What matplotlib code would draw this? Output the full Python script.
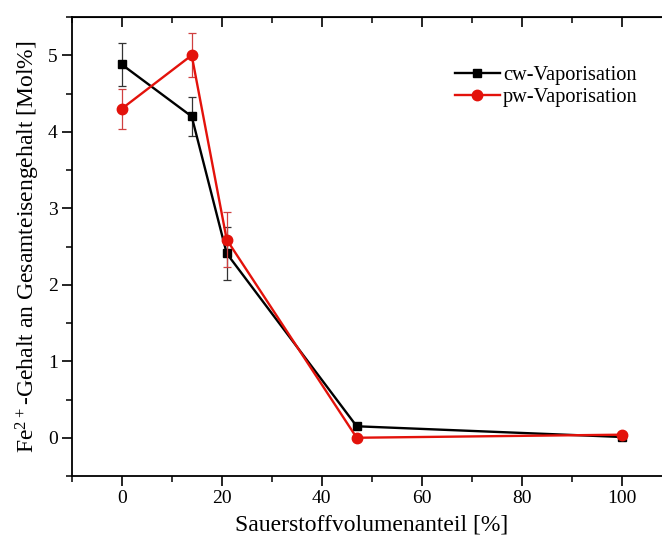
import matplotlib
matplotlib.use("Agg")
import matplotlib.pyplot as plt
from matplotlib.lines import Line2D
from matplotlib.ticker import MultipleLocator

plt.rcParams['font.family'] = ['Liberation Serif', 'DejaVu Serif']
plt.rcParams['mathtext.fontset'] = 'custom'
plt.rcParams['mathtext.rm'] = 'Liberation Serif'

# data
o2_share = [0, 14, 21, 47, 100]
cw_fe2 = [4.88, 4.20, 2.41, 0.15, 0.01]
cw_err = [0.28, 0.25, 0.35, 0.0, 0.0]
pw_fe2 = [4.30, 5.00, 2.59, 0.00, 0.04]
pw_err = [0.26, 0.29, 0.355, 0.0, 0.0]
names = ['cw-Vaporisation', 'pw-Vaporisation']

red = '#e3120b'

fig = plt.figure(figsize=(6.62, 5.42), dpi=100)
ax = fig.add_axes([71.7/662, 1-476/542, 600/662, 459/542])

ax.errorbar(o2_share, cw_fe2, yerr=cw_err, color='black', lw=1.7,
            marker='s', ms=6.2, ecolor='#333333', elinewidth=0.9,
            capsize=3, capthick=0.9, zorder=3)
ax.errorbar(o2_share, pw_fe2, yerr=pw_err, color=red, lw=1.7,
            marker='o', ms=7.5, ecolor='#d04040', elinewidth=0.9,
            capsize=3, capthick=0.9, zorder=4)

ax.set_xlim(-10, 110)
ax.set_ylim(-0.5, 5.5)
ax.xaxis.set_major_locator(MultipleLocator(20))
ax.xaxis.set_minor_locator(MultipleLocator(10))
ax.yaxis.set_major_locator(MultipleLocator(1))
ax.yaxis.set_minor_locator(MultipleLocator(0.5))

for s in ax.spines.values():
    s.set_linewidth(1.3)

ax.tick_params(which='major', direction='out', length=7, width=1.2,
               labelsize=14, pad=3)
ax.tick_params(which='minor', direction='out', length=4.2, width=1.1)

# inward ticks on top and right, no labels
top = ax.secondary_xaxis('top')
top.xaxis.set_major_locator(MultipleLocator(20))
top.xaxis.set_minor_locator(MultipleLocator(10))
top.tick_params(which='major', direction='in', length=7, width=1.2, labeltop=False)
top.tick_params(which='minor', direction='in', length=4.2, width=1.1)
right = ax.secondary_yaxis('right')
right.yaxis.set_major_locator(MultipleLocator(1))
right.yaxis.set_minor_locator(MultipleLocator(0.5))
right.tick_params(which='major', direction='in', length=7, width=1.2, labelright=False)
right.tick_params(which='minor', direction='in', length=4.2, width=1.1)

ax.set_xlabel('Sauerstoffvolumenanteil [%]', fontsize=17)
ax.xaxis.set_label_coords(0.5, -0.083)
ax.set_ylabel(r'Fe$\mathregular{^{2+}}$-Gehalt an Gesamteisengehalt [Mol%]', fontsize=17)
ax.yaxis.set_label_coords(-0.05, 0.5)

handles = [Line2D([], [], color='black', lw=1.7, marker='s', ms=6.2),
           Line2D([], [], color=red, lw=1.7, marker='o', ms=7.5)]
ax.legend(handles, names, loc='upper left', bbox_to_anchor=(455/662, 1-66/542),
          bbox_transform=fig.transFigure, frameon=False, fontsize=14.7,
          handlelength=2.2, handletextpad=0.15, borderpad=0, borderaxespad=0,
          labelspacing=0.12)

fig.savefig('out.png', dpi=100)
